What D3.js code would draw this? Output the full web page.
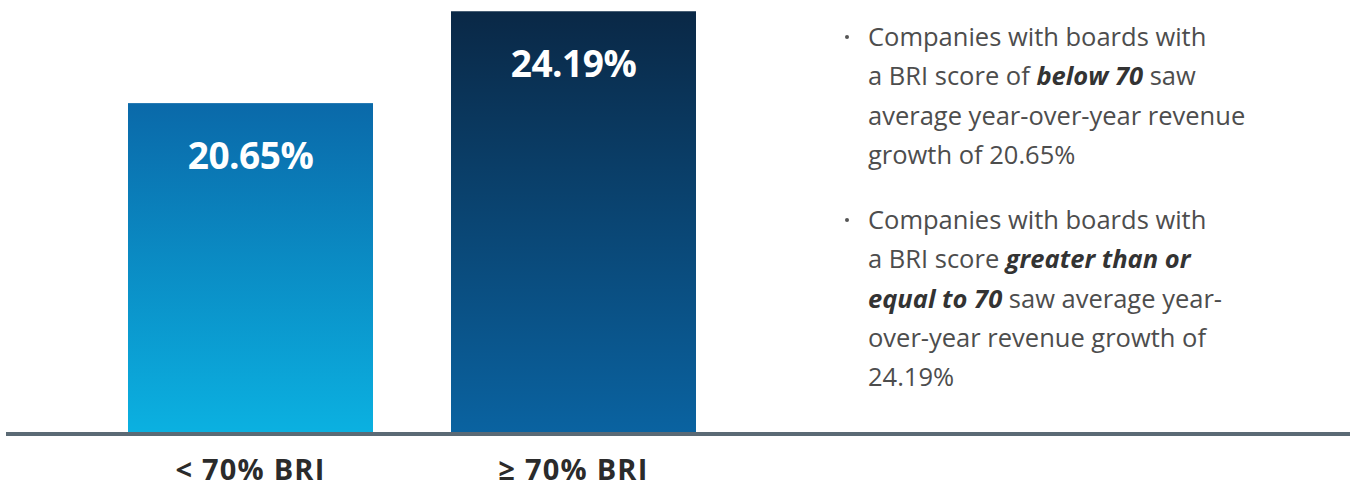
<!DOCTYPE html>
<html>
<head>
<meta charset="utf-8">
<script src="https://cdn.jsdelivr.net/npm/d3@7"></script>
<style>
  html, body { margin: 0; padding: 0; background: #ffffff; }
  svg { display: block; }
</style>
</head>
<body>
<svg id="chart" width="1355" height="489"></svg>
<script>
// ---- data ----
const categories = ["< 70% BRI", "\u2265 70% BRI"];
const growthValues = [20.65, 24.19];
const valueLabels = ["20.65%", "24.19%"];
const barTopColors = ["#0a69a9", "#0a2846"];
const barBottomColors = ["#0bb1e1", "#0a63a1"];

// bullet text: arrays of lines, each line = array of [text, isEmphasis]
const bullet1Lines = [
  [["Companies with boards with", false]],
  [["a BRI score of ", false], ["below 70", true], [" saw", false]],
  [["average year-over-year revenue", false]],
  [["growth of 20.65%", false]]
];
const bullet2Lines = [
  [["Companies with boards with", false]],
  [["a BRI score ", false], ["greater than or", true]],
  [["equal to 70", true], [" saw average year-", false]],
  [["over-year revenue growth of", false]],
  [["24.19%", false]]
];

// ---- layout ----
const svg = d3.select("#chart");
const baseY = 434;

const x = d3.scaleBand()
  .domain(categories)
  .range([128, 696])
  .paddingInner(0.2415)
  .paddingOuter(0);

const y = d3.scaleLinear()
  .domain([7.9, 24.2])
  .range([baseY, 11]);

const defs = svg.append("defs");
categories.forEach((c, i) => {
  const g = defs.append("linearGradient")
    .attr("id", "grad" + i)
    .attr("x1", 0).attr("y1", 0).attr("x2", 0).attr("y2", 1);
  g.append("stop").attr("offset", "0%").attr("stop-color", barTopColors[i]);
  g.append("stop").attr("offset", "100%").attr("stop-color", barBottomColors[i]);
});

const data = categories.map((c, i) => ({ c, v: growthValues[i], label: valueLabels[i], i }));

svg.selectAll("rect.bar")
  .data(data)
  .join("rect")
  .attr("class", "bar")
  .attr("x", d => x(d.c))
  .attr("width", x.bandwidth())
  .attr("y", d => y(d.v))
  .attr("height", d => baseY - y(d.v))
  .attr("fill", d => `url(#grad${d.i})`);

svg.selectAll("text.val")
  .data(data)
  .join("text")
  .attr("class", "val")
  .attr("x", d => x(d.c) + x.bandwidth() / 2)
  .attr("y", d => y(d.v) + 66)
  .attr("text-anchor", "middle")
  .attr("fill", "#ffffff")
  .style("font-family", "'Open Sans', sans-serif")
  .style("font-weight", 700)
  .style("font-size", "37px")
  .style("letter-spacing", "-0.5px")
  .text(d => d.label);

// baseline axis
const xAxis = d3.axisBottom(x).tickSize(0).tickPadding(0);
const axisG = svg.append("g")
  .attr("transform", `translate(0,${baseY})`)
  .call(xAxis);
axisG.select(".domain").remove();
axisG.append("line")
  .attr("x1", 6).attr("x2", 1350)
  .attr("y1", 0).attr("y2", 0)
  .attr("stroke", "#5b6a75")
  .attr("stroke-width", 4);
axisG.selectAll(".tick text")
  .attr("y", 46)
  .attr("dy", 0)
  .attr("fill", "#2b2b2b")
  .style("font-family", "'Open Sans', sans-serif")
  .style("font-weight", 700)
  .style("font-size", "29px")
  .style("letter-spacing", "1.2px");

// bullet text
const textX = 868;
const bulletX = 847;
const lineH = 39.3;
function drawBullet(lines, startY) {
  svg.append("circle")
    .attr("cx", bulletX)
    .attr("cy", startY - 9)
    .attr("r", 2)
    .attr("fill", "#555");
  lines.forEach((segs, li) => {
    const t = svg.append("text")
      .attr("x", textX)
      .attr("y", startY + li * lineH)
      .attr("fill", "#4d4d4d")
      .style("font-family", "'Open Sans', sans-serif")
      .style("font-size", "25.5px")
      .style("font-weight", 400);
    segs.forEach(([s, em]) => {
      const ts = t.append("tspan").text(s);
      if (em) ts.style("font-weight", 700).style("font-style", "italic").attr("fill", "#333");
    });
  });
}
drawBullet(bullet1Lines, 46);
drawBullet(bullet2Lines, 229);
</script>
</body>
</html>
